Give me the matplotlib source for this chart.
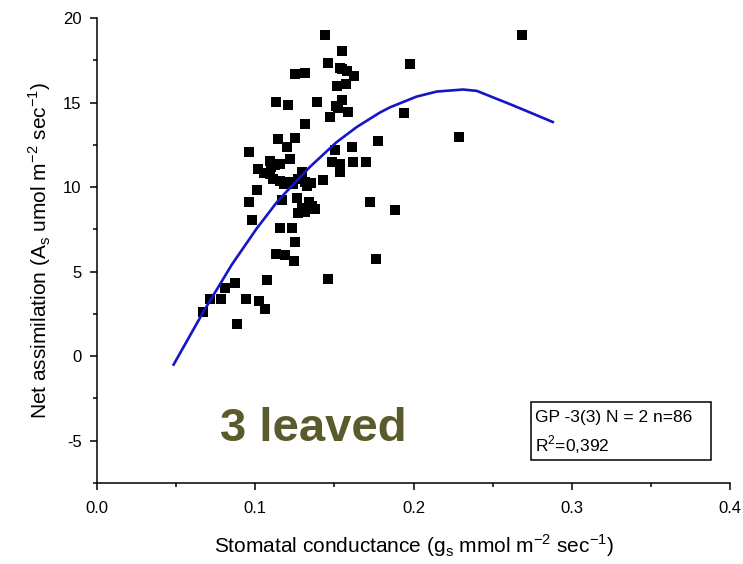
import matplotlib
matplotlib.use("Agg")
import matplotlib.pyplot as plt
from matplotlib.patches import Rectangle
from matplotlib.ticker import MultipleLocator, FormatStrFormatter

plt.rcParams['font.family'] = ['Liberation Sans', 'DejaVu Sans']
plt.rcParams['mathtext.fontset'] = 'custom'
plt.rcParams['mathtext.rm'] = 'Liberation Sans'

# scatter points
gs = [0.1441, 0.1546, 0.1462, 0.1546, 0.1578, 0.1626, 0.1251, 0.1314, 0.1515, 0.1573,
      0.1977, 0.2683, 0.1129, 0.1209, 0.1392, 0.1546, 0.1511, 0.1523, 0.1587, 0.1472,
      0.1314, 0.1940, 0.1144, 0.1251, 0.1199, 0.1778, 0.0958, 0.1503, 0.1610, 0.2289,
      0.1093, 0.1125, 0.1156, 0.1220, 0.1020, 0.1093, 0.1114, 0.1156, 0.1209, 0.1272,
      0.1294, 0.1314, 0.1325, 0.1483, 0.1536, 0.1536, 0.1616, 0.1700, 0.1427, 0.1009,
      0.1167, 0.1262, 0.1340, 0.1378, 0.1314, 0.1267, 0.0958, 0.1728, 0.1883, 0.0981,
      0.1156, 0.1230, 0.1251, 0.1128, 0.1188, 0.1245, 0.1763, 0.1074, 0.1460, 0.0871,
      0.0811, 0.0716, 0.0782, 0.0942, 0.1022, 0.1063, 0.0672, 0.0885, 0.1100, 0.1182,
      0.1238, 0.1353, 0.1295, 0.1055, 0.1536, 0.1359]
A = [19.02, 18.04, 17.36, 16.96, 16.85, 16.59, 16.69, 16.74, 15.98, 16.10,
     17.27, 18.99, 15.03, 14.84, 15.03, 15.13, 14.81, 14.66, 14.44, 14.14,
     13.75, 14.36, 12.85, 12.93, 12.36, 12.70, 12.07, 12.18, 12.36, 12.96,
     11.57, 11.28, 11.38, 11.67, 11.08, 10.78, 10.49, 10.36, 10.29, 10.49,
     10.92, 10.29, 10.09, 11.47, 11.34, 10.88, 11.48, 11.47, 10.40, 9.85,
     9.26, 9.35, 9.10, 8.68, 8.50, 8.46, 9.14, 9.14, 8.65, 8.05,
     7.61, 7.61, 6.77, 6.05, 5.99, 5.64, 5.72, 4.53, 4.57, 4.35,
     4.02, 3.41, 3.36, 3.41, 3.26, 2.81, 2.59, 1.90, 11.16, 10.18,
     10.21, 10.27, 8.78, 10.86, 17.03, 8.90]

# fitted curve, points
fit_x = [0.0484, 0.0672, 0.0777, 0.0851, 0.1009, 0.1136, 0.1189, 0.1346, 0.1513,
         0.1641, 0.1786, 0.1852, 0.2019, 0.2147, 0.2313, 0.2400, 0.2627, 0.2880]
fit_y = [-0.50, 2.62, 4.25, 5.40, 7.55, 9.10, 9.65, 11.20, 12.65,
         13.55, 14.40, 14.72, 15.35, 15.65, 15.77, 15.69, 14.84, 13.85]

fig = plt.figure(figsize=(7.43, 5.64), dpi=100)
ax = fig.add_axes([97 / 743, 81 / 564, 633 / 743, 465 / 564])

ax.plot(gs, A, 's', color='black', markersize=6.6, markeredgewidth=0)
ax.plot(fit_x, fit_y, color='#1515c8', linewidth=1.9)

ax.set_xlim(0, 0.4)
ax.set_ylim(-7.5, 20)
ax.xaxis.set_major_locator(MultipleLocator(0.1))
ax.xaxis.set_minor_locator(MultipleLocator(0.05))
ax.yaxis.set_major_locator(MultipleLocator(5))
ax.yaxis.set_minor_locator(MultipleLocator(2.5))
ax.xaxis.set_major_formatter(FormatStrFormatter('%.1f'))
ax.yaxis.set_major_formatter(FormatStrFormatter('%d'))

for s in ['top', 'right']:
    ax.spines[s].set_visible(False)
for s in ['left', 'bottom']:
    ax.spines[s].set_linewidth(1.1)
ax.tick_params(which='major', direction='out', length=5, width=1.1, labelsize=12)
ax.tick_params(axis='x', which='major', pad=8)
ax.tick_params(axis='y', which='major', pad=6)
ax.tick_params(which='minor', direction='out', length=3, width=1.1)

ax.set_xlabel(r'Stomatal conductance (g$_{\mathrm{s}}$ mmol m$^{-2}$ sec$^{-1}$)',
              fontsize=15, labelpad=12)
ax.set_ylabel(r'Net assimilation (A$_{\mathrm{s}}$ umol m$^{-2}$ sec$^{-1}$)',
              fontsize=15, labelpad=7)

ax.text(0.137, -4.33, '3 leaved', fontsize=34, fontweight='bold', color='#5a5a2c',
        ha='center', va='center')

ax.add_patch(Rectangle((0.686, 0.049), 0.284, 0.125, transform=ax.transAxes,
                       fill=False, edgecolor='black', linewidth=1.1))
ax.text(0.692, 0.140, 'GP -3(3) N = 2 n=86', transform=ax.transAxes,
        fontsize=12.5, va='center', ha='left')
ax.text(0.692, 0.082, 'R$^{2}$=0,392', transform=ax.transAxes,
        fontsize=12.5, va='center', ha='left')

fig.savefig('out.png', dpi=100)
